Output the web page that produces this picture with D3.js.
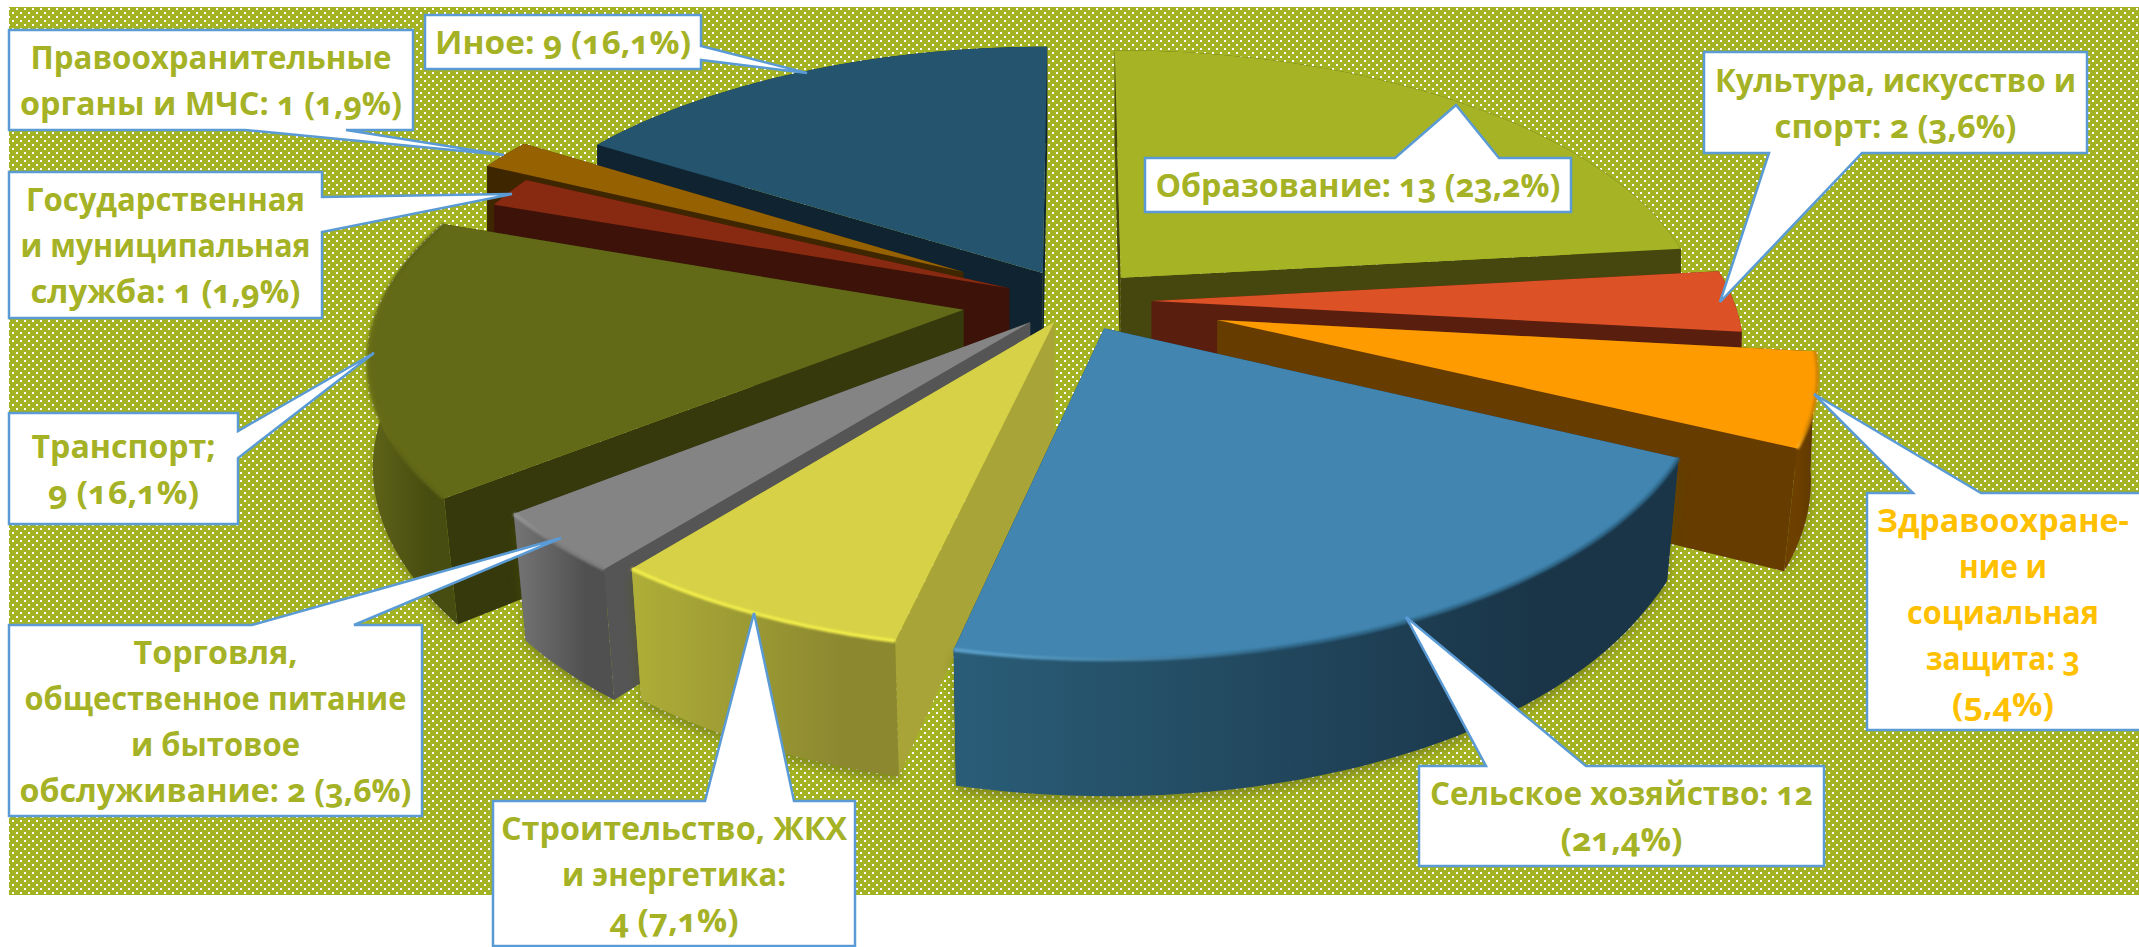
<!DOCTYPE html>
<html>
<head>
<meta charset="utf-8">
<script src="https://cdn.jsdelivr.net/npm/d3@7"></script>
<style>
  html, body { margin: 0; padding: 0; background: #fff; overflow: hidden; }
  text { font-family: "Open Sans", "Noto Sans", sans-serif; font-weight: 700; font-variant-numeric: oldstyle-nums; font-feature-settings: "onum"; }
</style>
</head>
<body>
<svg id="chart"></svg>
<script>
// data, in the order of the pie, clockwise from 12 o'clock
const categories = ["Образование", "Культура, искусство и спорт", "Здравоохранение и социальная защита",
  "Сельское хозяйство", "Строительство, ЖКХ и энергетика", "Торговля, общественное питание и бытовое обслуживание",
  "Транспорт", "Государственная и муниципальная служба", "Правоохранительные органы и МЧС", "Иное"];
const values = [13, 2, 3, 12, 4, 2, 9, 1, 1, 9];
// how far each slice is pulled out, as a share of the radius
const explosion = [0.117, 0.13, 0.25, 0.11, 0.085, 0.11, 0.195, 0.125, 0.225, 0.12];
const labelLines = [
  ["Образование: 13 (23,2%)"],
  ["Культура, искусство и", "спорт: 2 (3,6%)"],
  ["Здравоохране-", "ние и", "социальная", "защита: 3", "(5,4%)"],
  ["Сельское хозяйство: 12", "(21,4%)"],
  ["Строительство, ЖКХ", "и энергетика:", "4 (7,1%)"],
  ["Торговля,", "общественное питание", "и бытовое", "обслуживание: 2 (3,6%)"],
  ["Транспорт;", "9 (16,1%)"],
  ["Государственная", "и муниципальная", "служба: 1 (1,9%)"],
  ["Правоохранительные", "органы и МЧС: 1 (1,9%)"],
  ["Иное: 9 (16,1%)"]
];

const width = 2139, height = 947;

// colours per slice
const topColors  = ["#a5b324", "#dc5126", "#fe9b00", "#4185b0", "#d6d146", "#848484", "#636a17", "#872a11", "#966100", "#25556e"];
const sideColors = ["#46470f", "#5a1e0e", "#663c00", "#1a3548", "#a8a437", "#555555", "#35390c", "#3d1208", "#3e2700", "#0f2430"];
const wallFrom   = ["#46470f", "#5a1e0e", "#6d4000", "#2a5d78", "#aeae38", "#757575", "#5f6518", "#3d1208", "#3e2700", "#0f2430"];
const wallTo     = ["#46470f", "#5a1e0e", "#5f3800", "#1a3548", "#8c8830", "#505050", "#474c10", "#3d1208", "#3e2700", "#0f2430"];
const rimColors  = [null, null, "#ffb020", "#5fa5cf", "#f3ee4c", "#9a9a9a", "#6c7419", null, null, null];
const rimFade    = [null, null, "#d08400", "#2f6688", "#d6d146", "#7c7c7c", "#5c6315", null, null, null];
const textColors = values.map((d, i) => i === 2 ? "#ffc000" : "#a5b225");

// callouts: box [x0,y0,x1,y1], tail as base, tip, base (clockwise) on one side of the box,
// and the width each text line takes
const callouts = [
  {box: [1145, 158, 1571, 212], side: "t", tail: [[1395, 158], [1456, 105], [1499, 158]], widths: [405]},
  {box: [1704, 52, 2087, 153], side: "b", tail: [[1862, 153], [1720, 302], [1769, 153]], widths: [361, 242]},
  {box: [1867, 493, 2145, 730], side: "t", tail: [[1913, 493], [1814, 394], [1981, 493]], widths: [252, 88, 192, 154, 102]},
  {box: [1419, 766, 1824, 866], side: "t", tail: [[1486, 766], [1406, 617], [1586, 766]], widths: [383, 122]},
  {box: [493, 801, 855, 946], side: "t", tail: [[705, 801], [754, 613], [794, 801]], widths: [346, 224, 129]},
  {box: [9, 625, 422, 816], side: "t", tail: [[252, 625], [561, 538], [354, 625]], widths: [164, 382, 169, 392]},
  {box: [9, 413, 238, 524], side: "r", tail: [[238, 431], [374, 353], [238, 458]], widths: [184, 151]},
  {box: [9, 172, 322, 318], side: "r", tail: [[322, 197], [512, 194], [322, 232]], widths: [279, 290, 270]},
  {box: [9, 30, 413, 130], side: "b", tail: [[346, 130], [504, 155], [245, 130]], widths: [361, 382]},
  {box: [425, 15, 701, 69], side: "r", tail: [[701, 46], [807, 73], [701, 60]], widths: [256]}
];

// the pie plane seen in perspective
const planeX = d3.scaleLinear().domain([-1, 1]).range([1076 - 582, 1076 + 582]);
const planeY = d3.scaleLinear().domain([-1, 1]).range([301 + 270, 301 - 270]);
const tilt = 0.157;
const depth = 113;
const vanishX = 1060;

function project(px, py, lower) {
  const w = 1 + tilt * py;
  const x = planeX(px / w), y = planeY(py / w);
  if (!lower) return [x, y];
  // verticals lean in only towards the front of the pie
  const lean = 0.022 * Math.min(1, Math.max(0, -py) * 1.6);
  return [x + (vanishX - x) * lean, y + depth / w];
}

const pie = d3.pie().sort(null).value(d => d);
const arcs = pie(values);
const line = d3.line();

function sliceGeometry(a, i) {
  const mid = (a.startAngle + a.endAngle) / 2;
  const ex = explosion[i] * Math.sin(mid), ey = explosion[i] * Math.cos(mid);
  const steps = d3.range(0, 41).map(k => a.startAngle + (a.endAngle - a.startAngle) * k / 40);
  const rim = steps.map(t => [ex + Math.sin(t), ey + Math.cos(t)]);
  return {
    apexTop: project(ex, ey, false),
    apexLow: project(ex, ey, true),
    rimTop: rim.map(p => project(p[0], p[1], false)),
    rimLow: rim.map(p => project(p[0], p[1], true))
  };
}

const svg = d3.select("#chart").attr("width", width).attr("height", height)
  .style("display", "block");
const defs = svg.append("defs");

// dotted background
const pattern = defs.append("pattern").attr("id", "dots")
  .attr("patternUnits", "userSpaceOnUse")
  .attr("x", 9).attr("y", 7)
  .attr("width", 8).attr("height", 8);
pattern.append("rect").attr("width", 8).attr("height", 8).attr("fill", "#a4b323");
pattern.append("rect").attr("x", 7).attr("y", 1).attr("width", 1).attr("height", 2).attr("fill", "#fff");
pattern.append("rect").attr("x", 0).attr("y", 1).attr("width", 1).attr("height", 2).attr("fill", "#fff");
pattern.append("rect").attr("x", 3).attr("y", 5).attr("width", 2).attr("height", 2).attr("fill", "#fff");

defs.append("filter").attr("id", "soft").append("feGaussianBlur").attr("stdDeviation", 1.1);
defs.append("filter").attr("id", "shadow")
  .attr("x", "-10%").attr("y", "-10%").attr("width", "120%").attr("height", "120%")
  .append("feGaussianBlur").attr("stdDeviation", 6);

svg.append("rect").attr("x", 9).attr("y", 7)
  .attr("width", width - 9).attr("height", 888)
  .attr("fill", "url(#dots)");

// back to front
const drawOrder = [0, 9, 8, 7, 6, 5, 4, 1, 2, 3];
const gPie = svg.append("g");

drawOrder.forEach(i => {
  const geo = sliceGeometry(arcs[i], i);
  const g = gPie.append("g").attr("class", "slice");

  // soft shadow on the ground for the front slices
  if (rimColors[i]) {
    g.append("path")
      .attr("d", line(geo.rimLow.concat(geo.rimTop.slice().reverse())) + "Z")
      .attr("fill", "#4f5410").attr("opacity", 0.45)
      .attr("transform", "translate(0,6)")
      .attr("filter", "url(#shadow)");
  }

  // outer wall gradient
  const xs = geo.rimTop.map(p => p[0]);
  const xMin = d3.min(xs), xMax = d3.max(xs);
  const grad = defs.append("linearGradient").attr("id", "wall" + i)
    .attr("gradientUnits", "userSpaceOnUse")
    .attr("x1", xMin).attr("x2", xMin + (xMax - xMin) * 0.8)
    .attr("y1", 0).attr("y2", 0);
  grad.append("stop").attr("offset", 0).attr("stop-color", wallFrom[i]);
  grad.append("stop").attr("offset", 1).attr("stop-color", wallTo[i]);

  // the two cut walls
  const n = geo.rimTop.length - 1;
  [0, n].forEach(k => {
    g.append("path")
      .attr("d", line([geo.apexTop, geo.rimTop[k], geo.rimLow[k], geo.apexLow]) + "Z")
      .attr("fill", sideColors[i]);
  });
  // outer wall
  g.append("path")
    .attr("d", line(geo.rimTop.concat(geo.rimLow.slice().reverse())) + "Z")
    .attr("fill", `url(#wall${i})`);
  // top face
  g.append("path")
    .attr("d", line([geo.apexTop].concat(geo.rimTop)) + "Z")
    .attr("fill", topColors[i]);
  // bevel along the rim, bright at the left end
  if (rimColors[i]) {
    const rimGrad = defs.append("linearGradient").attr("id", "rim" + i)
      .attr("gradientUnits", "userSpaceOnUse")
      .attr("x1", xMin).attr("x2", xMin + (xMax - xMin) * 0.45)
      .attr("y1", 0).attr("y2", 0);
    rimGrad.append("stop").attr("offset", 0).attr("stop-color", rimColors[i]);
    rimGrad.append("stop").attr("offset", 1).attr("stop-color", i === 4 ? rimColors[i] : rimFade[i]);
    g.append("path")
      .attr("d", line(geo.rimTop))
      .attr("fill", "none")
      .attr("stroke", `url(#rim${i})`)
      .attr("stroke-width", 3.5)
      .attr("filter", "url(#soft)");
  }
});

// callouts
const lineHeight = 46;
const gLabels = svg.selectAll("g.callout").data(callouts).join("g").attr("class", "callout");

gLabels.append("path")
  .attr("d", c => {
    const [x0, y0, x1, y1] = c.box;
    const pts = [[x0, y0]];
    if (c.side === "t") pts.push(...c.tail);
    pts.push([x1, y0]);
    if (c.side === "r") pts.push(...c.tail);
    pts.push([x1, y1]);
    if (c.side === "b") pts.push(...c.tail);
    pts.push([x0, y1]);
    return line(pts) + "Z";
  })
  .attr("fill", "#fff")
  .attr("stroke", "#5b9bd5")
  .attr("stroke-width", 2.5)
  .attr("stroke-linejoin", "miter");

gLabels.each(function(c, i) {
  const lines = labelLines[i];
  const cx = (c.box[0] + Math.min(c.box[2], width)) / 2;
  const cy = (c.box[1] + c.box[3]) / 2;
  d3.select(this).selectAll("text").data(lines).join("text")
    .attr("x", cx)
    .attr("y", (d, k) => cy + (k - (lines.length - 1) / 2) * lineHeight + 12)
    .attr("text-anchor", "middle")
    .attr("font-size", 33)
    .attr("textLength", (d, k) => c.widths[k])
    .attr("lengthAdjust", "spacingAndGlyphs")
    .attr("fill", textColors[i])
    .text(d => d);
});
</script>
</body>
</html>
